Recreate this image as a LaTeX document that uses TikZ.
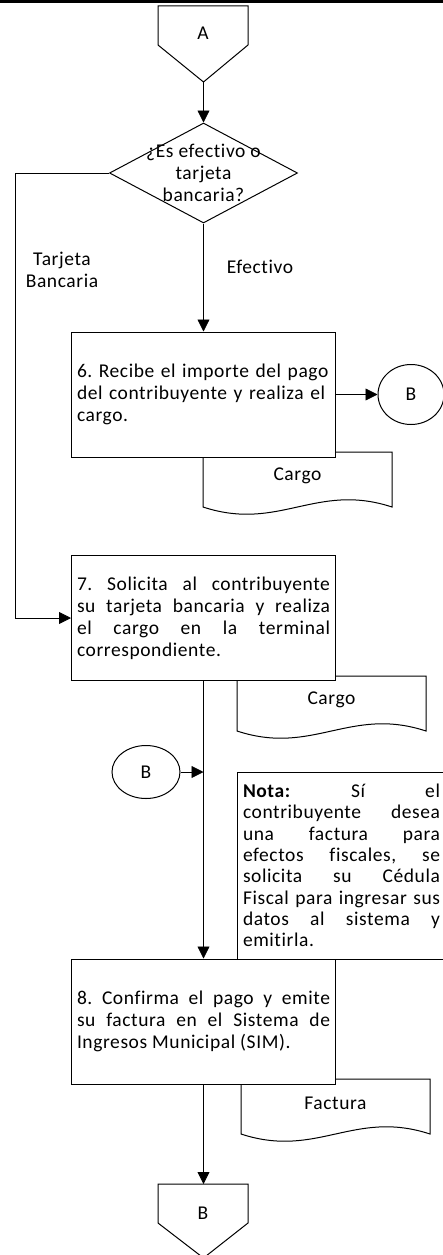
\documentclass[tikz,border=0pt]{standalone}
\usepackage{fontspec}
\setmainfont{Carlito}[LetterSpace=3,Ligatures=NoCommon]
\usepackage{tikz}
\usetikzlibrary{arrows.meta,shapes.geometric,calc}

\newcommand{\flowfont}{\fontsize{19.5}{22}\selectfont}
\newcommand{\notefont}{\fontsize{19.5}{21.3}\selectfont}
\frenchspacing

\tikzset{
  process/.style={draw, line width=1pt, fill=white, minimum width=264pt, minimum height=125pt, text width=253pt, inner sep=5pt, font=\flowfont},
  decision/.style={draw, line width=1pt, diamond, minimum width=188pt, minimum height=100pt, inner sep=0pt},
  conector/.style={draw, line width=1pt, ellipse, fill=white, inner sep=0pt, font=\flowfont},
  notabox/.style={draw, line width=1pt, fill=white, minimum width=209pt, minimum height=187pt, text width=197pt, inner sep=6pt, align=justify, font=\notefont},
  flecha/.style={line width=0.8pt, -{Triangle[length=12pt,width=12pt]}},
  rotulo/.style={font=\flowfont, align=center},
  pics/docu/.style={code={
    \draw[line width=1pt, fill=white] (0,0) -- (189,0) -- (189,55)
      .. controls (113,30) and (76,80) .. (0,55) -- cycle;
    \node[font=\flowfont] (-lbl) at (94.5,24) {#1};
  }},
}

\begin{document}
\begin{tikzpicture}[x=1pt,y=-1pt]
\useasboundingbox (0,0) rectangle (443,1255);
\clip (0,0) rectangle (443,1255);

\draw[line width=3pt] (0,2) -- (443,2);

% conector de pagina A
\draw[line width=1pt] (158,6) -- (248,6) -- (248,45) -- (203.5,82) coordinate (A-tip) -- (158,45) -- cycle;
\node[font=\flowfont] (A) at (203,33) {A};

\node[decision, label={[rotulo]center:{¿Es efectivo o\\tarjeta\\bancaria?}}] (dq) at (203.5,173) {};

\node[rotulo] (tb) at (62,270) {Tarjeta\\Bancaria};
\node[rotulo] (ef) at (260,267) {Efectivo};

% documentos (detras de las cajas)
\pic (d1) at (203,452) {docu=Cargo};
\pic (d2) at (237,676) {docu=Cargo};
\pic (d3) at (241,1079) {docu=Factura};

\node[process, align=left] (p6) at (203.5,394.5) {6. Recibe el importe del pago\\del contribuyente y realiza el\\cargo.};
\node[conector, minimum width=66pt, minimum height=60pt] (B1) at (411,394.5) {B};

\node[process, align=justify] (p7) at (203.5,618) {7. Solicita al contribuyente\linebreak su tarjeta bancaria y realiza\linebreak el cargo en la terminal\linebreak correspondiente.};

\node[conector, minimum width=68pt, minimum height=53pt] (B2) at (146,772) {B};

\node[notabox] (nota) at (341.5,865.5) {\textbf{Nota:} Sí el\linebreak contribuyente desea\linebreak una factura para\linebreak efectos fiscales, se\linebreak solicita su Cédula\linebreak Fiscal para ingresar sus\linebreak datos al sistema y\linebreak emitirla.};

\node[process, align=justify] (p8) at (203.5,1021.5) {8. Confirma el pago y emite\linebreak su factura en el Sistema de\linebreak Ingresos Municipal (SIM).};

% conector de pagina B
\draw[line width=1pt] (203.5,1184) coordinate (Bfin-top) -- (248,1184) -- (248,1223) -- (203.5,1258) -- (158,1223) -- (158,1184) -- cycle;
\node[font=\flowfont] (Bfin) at (203,1213) {B};

% flechas
\coordinate (esq) at (15,173);
\draw[flecha] (A-tip) -- (dq.north);
\draw[flecha] (dq.west) -- (esq) |- (p7.west);
\draw[flecha] (dq.south) -- (p6.north);
\draw[flecha] (p6.east) -- (B1.west);
\draw[flecha] (p7.south) -- (p8.north);
\draw[flecha] (B2.east) -- (B2.east -| p7.south);
\draw[flecha] (p8.south) -- (Bfin-top);
\end{tikzpicture}
\end{document}
